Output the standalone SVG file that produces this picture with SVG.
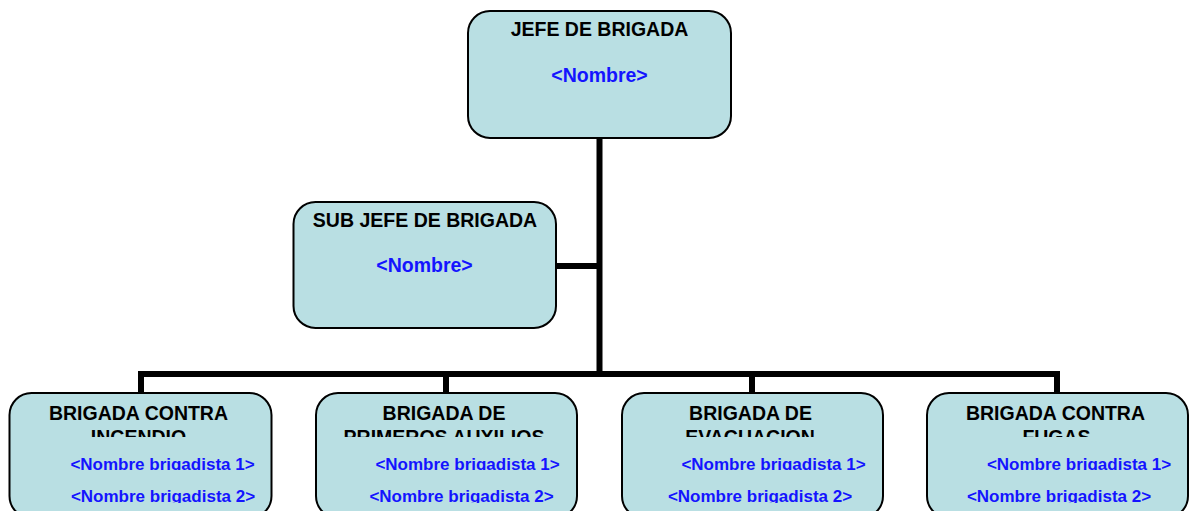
<svg xmlns="http://www.w3.org/2000/svg" width="1191" height="511" viewBox="0 0 1191 511">
<style>
.box{fill:#B9DFE3;stroke:#000;stroke-width:2}
.t{font-family:"Liberation Sans",Arial,sans-serif;font-weight:bold;fill:#000;text-anchor:middle;font-size:19.5px}
.n{font-family:"Liberation Sans",Arial,sans-serif;font-weight:bold;fill:#1414FF;text-anchor:middle;font-size:19.5px}
.b{font-family:"Liberation Sans",Arial,sans-serif;font-weight:bold;fill:#1414FF;text-anchor:middle;font-size:17px}
.c{fill:none;stroke:#000;stroke-width:6}
</style>
<defs>
<clipPath id="clipT"><rect x="0" y="395" width="1191" height="42"/></clipPath>
<clipPath id="clipN1"><rect x="0" y="445" width="1191" height="25"/></clipPath>
<clipPath id="clipN2"><rect x="0" y="478" width="1191" height="25"/></clipPath>
</defs>
<g id="connectors">
<path class="c" d="M599.5 138 V374"/>
<path class="c" d="M556 266 H599.5"/>
<path class="c" d="M141 393 V374 H1057 V393"/>
<path class="c" d="M446 374 V393"/>
<path class="c" d="M752 374 V393"/>
</g>
<g id="jefe">
<rect class="box" x="468" y="11" width="263" height="127" rx="22"/>
<text class="t" x="599.5" y="36">JEFE DE BRIGADA</text>
<text class="n" x="599.5" y="81.5">&lt;Nombre&gt;</text>
</g>
<g id="subjefe">
<rect class="box" x="293.5" y="202" width="262.5" height="126" rx="22"/>
<text class="t" x="425" y="227">SUB JEFE DE BRIGADA</text>
<text class="n" x="424.5" y="272">&lt;Nombre&gt;</text>
</g>
<g id="incendio">
<rect class="box" x="9.5" y="393" width="262" height="125" rx="22"/>
<g clip-path="url(#clipT)">
<text class="t" x="138.5" y="419.5">BRIGADA CONTRA</text>
<text class="t" x="138.5" y="443.5">INCENDIO</text>
</g>
<text class="b" x="162.5" y="469.5" clip-path="url(#clipN1)">&lt;Nombre brigadista 1&gt;</text>
<text class="b" x="163" y="502" clip-path="url(#clipN2)">&lt;Nombre brigadista 2&gt;</text>
</g>
<g id="primeros">
<rect class="box" x="316" y="393" width="261" height="125" rx="22"/>
<g clip-path="url(#clipT)">
<text class="t" x="444" y="419.5">BRIGADA DE</text>
<text class="t" x="444" y="443.5">PRIMEROS AUXILIOS</text>
</g>
<text class="b" x="467.5" y="469.5" clip-path="url(#clipN1)">&lt;Nombre brigadista 1&gt;</text>
<text class="b" x="461.5" y="502" clip-path="url(#clipN2)">&lt;Nombre brigadista 2&gt;</text>
</g>
<g id="evacuacion">
<rect class="box" x="622" y="393" width="261" height="125" rx="22"/>
<g clip-path="url(#clipT)">
<text class="t" x="750.5" y="419.5">BRIGADA DE</text>
<text class="t" x="750" y="443.5">EVACUACION</text>
</g>
<text class="b" x="773.5" y="469.5" clip-path="url(#clipN1)">&lt;Nombre brigadista 1&gt;</text>
<text class="b" x="760" y="502" clip-path="url(#clipN2)">&lt;Nombre brigadista 2&gt;</text>
</g>
<g id="fugas">
<rect class="box" x="927" y="393" width="261" height="125" rx="22"/>
<g clip-path="url(#clipT)">
<text class="t" x="1055.5" y="419.5">BRIGADA CONTRA</text>
<text class="t" x="1056.5" y="443.5">FUGAS</text>
</g>
<text class="b" x="1079" y="469.5" clip-path="url(#clipN1)">&lt;Nombre brigadista 1&gt;</text>
<text class="b" x="1059" y="502" clip-path="url(#clipN2)">&lt;Nombre brigadista 2&gt;</text>
</g>
</svg>
